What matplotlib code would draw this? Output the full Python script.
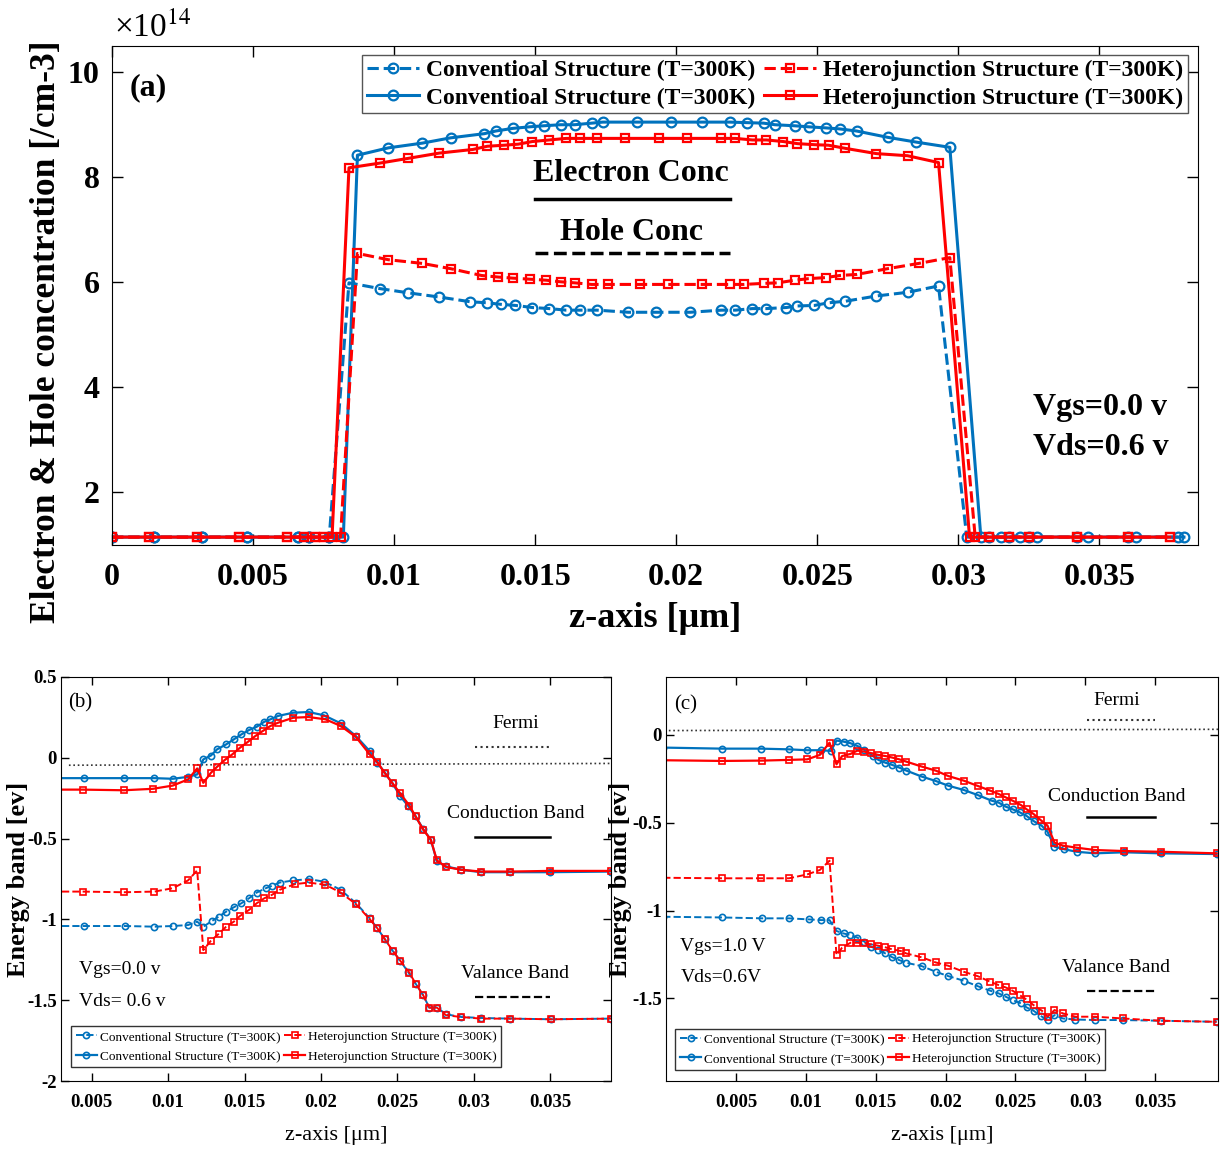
import numpy as np
import matplotlib
matplotlib.use("Agg")
from matplotlib import pyplot as plt

plt.rcParams['font.family'] = ['Liberation Serif', 'DejaVu Serif']
plt.rcParams['mathtext.fontset'] = 'stix'

BLUE = '#0072BD'
RED = '#FF0000'

# ---------------- panel (a): carrier concentration (x1e14 /cm3) ----------------
a_conv_e_z = [0.0000, 0.0015, 0.0032, 0.0048, 0.0066, 0.0070, 0.0077, 0.0082,
              0.0087, 0.0098, 0.0110, 0.0120, 0.0132, 0.0136, 0.0142, 0.0148, 0.0153, 0.0159, 0.0164, 0.0170,
              0.0174, 0.0186, 0.0198, 0.0209, 0.0219, 0.0225, 0.0231, 0.0235, 0.0242, 0.0247, 0.0253, 0.0258,
              0.0264, 0.0275, 0.0285, 0.0297,
              0.0308, 0.0315, 0.0322, 0.0328, 0.0346, 0.0363, 0.0380]
a_conv_e = [1.15, 1.15, 1.15, 1.15, 1.15, 1.15, 1.15, 1.15,
            8.42, 8.56, 8.65, 8.75, 8.83, 8.88, 8.93, 8.96, 8.98, 9.00, 9.00, 9.03,
            9.05, 9.05, 9.05, 9.05, 9.05, 9.04, 9.03, 9.00, 8.98, 8.96, 8.94, 8.92,
            8.88, 8.76, 8.67, 8.57,
            1.15, 1.15, 1.15, 1.15, 1.15, 1.15, 1.15]

a_het_e_z = [0.0000, 0.0013, 0.0030, 0.0045, 0.0062, 0.0068, 0.0072, 0.0075, 0.0078,
             0.0084, 0.0095, 0.0105, 0.0116, 0.0128, 0.0133, 0.0139, 0.0144, 0.0149, 0.0155, 0.0161, 0.0166, 0.0172,
             0.0182, 0.0194, 0.0204, 0.0216, 0.0221, 0.0227, 0.0232, 0.0238, 0.0243, 0.0249, 0.0254, 0.0260,
             0.0271, 0.0282, 0.0293,
             0.0304, 0.0311, 0.0318, 0.0325, 0.0342, 0.0360, 0.0375]
a_het_e = [1.15, 1.15, 1.15, 1.15, 1.15, 1.15, 1.15, 1.15, 1.15,
           8.18, 8.27, 8.36, 8.46, 8.53, 8.59, 8.61, 8.63, 8.68, 8.71, 8.74, 8.74, 8.74,
           8.74, 8.74, 8.74, 8.74, 8.74, 8.71, 8.71, 8.68, 8.64, 8.62, 8.61, 8.55,
           8.45, 8.41, 8.28,
           1.15, 1.15, 1.15, 1.15, 1.15, 1.15, 1.15]

a_conv_h_z = [0.0000, 0.0015, 0.0032, 0.0048, 0.0066, 0.0070, 0.0077,
              0.0084, 0.0095, 0.0105, 0.0116, 0.0127, 0.0133, 0.0138, 0.0143, 0.0149, 0.0155, 0.0161, 0.0166, 0.0172,
              0.0183, 0.0193, 0.0205, 0.0216, 0.0221, 0.0227, 0.0232, 0.0239, 0.0243, 0.0249, 0.0254, 0.0260,
              0.0271, 0.0282, 0.0293,
              0.0303, 0.0311, 0.0318, 0.0325, 0.0342, 0.0360, 0.0378]
a_conv_h = [1.15, 1.15, 1.15, 1.15, 1.15, 1.15, 1.15,
            5.99, 5.88, 5.80, 5.72, 5.63, 5.61, 5.58, 5.56, 5.52, 5.50, 5.47, 5.47, 5.47,
            5.43, 5.43, 5.43, 5.47, 5.47, 5.50, 5.50, 5.52, 5.55, 5.56, 5.61, 5.64,
            5.74, 5.81, 5.93,
            1.15, 1.15, 1.15, 1.15, 1.15, 1.15, 1.15]

a_het_h_z = [0.0000, 0.0013, 0.0030, 0.0045, 0.0062, 0.0068, 0.0072, 0.0075, 0.0081,
             0.0087, 0.0098, 0.0110, 0.0120, 0.0131, 0.0137, 0.0142, 0.0148, 0.0154, 0.0159, 0.0164, 0.0170,
             0.0176, 0.0187, 0.0197, 0.0209, 0.0219, 0.0224, 0.0231, 0.0236, 0.0242, 0.0247, 0.0253, 0.0258,
             0.0264, 0.0275, 0.0286, 0.0297,
             0.0306, 0.0311, 0.0318, 0.0325, 0.0342, 0.0360, 0.0375]
a_het_h = [1.15, 1.15, 1.15, 1.15, 1.15, 1.15, 1.15, 1.15, 1.15,
           6.55, 6.43, 6.36, 6.26, 6.13, 6.10, 6.08, 6.06, 6.04, 6.01, 5.99, 5.96,
           5.96, 5.96, 5.96, 5.96, 5.96, 5.96, 5.98, 5.99, 6.04, 6.07, 6.09, 6.13,
           6.15, 6.26, 6.36, 6.47,
           1.15, 1.15, 1.15, 1.15, 1.15, 1.15, 1.15]

# ---------------- panel (b): band diagram, Vgs=0.0 V ----------------
b_conv_cb_z = [0.0017, 0.0045, 0.0071, 0.0091, 0.0103, 0.0113, 0.0119, 0.0123, 0.0128, 0.0132,
               0.0138, 0.0143, 0.0148, 0.0153, 0.0158, 0.0163, 0.0167, 0.0172, 0.0182, 0.0192,
               0.0202, 0.0213, 0.0223, 0.0232, 0.0237, 0.0242, 0.0247, 0.0252, 0.0257, 0.0262,
               0.0267, 0.0272, 0.0276, 0.0282, 0.0292, 0.0305, 0.0324, 0.0350, 0.0390]
b_conv_cb = [-0.126, -0.126, -0.126, -0.126, -0.130, -0.118, -0.103, -0.010, 0.014, 0.052,
             0.083, 0.114, 0.145, 0.172, 0.192, 0.223, 0.238, 0.259, 0.279, 0.283,
             0.263, 0.213, 0.134, 0.041, -0.031, -0.093, -0.159, -0.238, -0.296, -0.362,
             -0.441, -0.507, -0.641, -0.672, -0.693, -0.708, -0.708, -0.708, -0.704]

b_het_cb_z = [0.0017, 0.0044, 0.0071, 0.0090, 0.0103, 0.0113, 0.0119, 0.0123, 0.0128, 0.0132,
              0.0137, 0.0142, 0.0147, 0.0152, 0.0157, 0.0162, 0.0167, 0.0172, 0.0182, 0.0192,
              0.0203, 0.0213, 0.0223, 0.0232, 0.0237, 0.0242, 0.0247, 0.0252, 0.0258, 0.0262,
              0.0267, 0.0272, 0.0276, 0.0282, 0.0292, 0.0305, 0.0324, 0.0350, 0.0390]
b_het_cb = [-0.197, -0.197, -0.201, -0.192, -0.172, -0.134, -0.066, -0.155, -0.093, -0.056,
            -0.014, 0.021, 0.062, 0.097, 0.134, 0.166, 0.197, 0.217, 0.248, 0.252,
            0.238, 0.197, 0.128, 0.021, -0.027, -0.097, -0.159, -0.221, -0.296, -0.362,
            -0.445, -0.507, -0.635, -0.676, -0.693, -0.704, -0.704, -0.700, -0.700]

b_conv_vb_z = [0.0017, 0.0045, 0.0072, 0.0091, 0.0103, 0.0113, 0.0119, 0.0123, 0.0129, 0.0133,
               0.0138, 0.0143, 0.0148, 0.0153, 0.0158, 0.0164, 0.0168, 0.0173, 0.0182, 0.0192,
               0.0202, 0.0213, 0.0223, 0.0232, 0.0237, 0.0242, 0.0247, 0.0252, 0.0257, 0.0262,
               0.0267, 0.0271, 0.0276, 0.0282, 0.0292, 0.0305, 0.0324, 0.0351, 0.0390]
b_conv_vb = [-1.041, -1.041, -1.041, -1.045, -1.041, -1.035, -1.014, -1.045, -1.008, -0.983,
             -0.952, -0.925, -0.900, -0.869, -0.834, -0.807, -0.792, -0.772, -0.759, -0.751,
             -0.766, -0.817, -0.900, -0.993, -1.055, -1.124, -1.194, -1.256, -1.324, -1.397,
             -1.469, -1.546, -1.546, -1.587, -1.604, -1.610, -1.614, -1.618, -1.614]

b_het_vb_z = [0.0017, 0.0044, 0.0071, 0.0091, 0.0103, 0.0113, 0.0119, 0.0123, 0.0128, 0.0133,
              0.0138, 0.0143, 0.0147, 0.0153, 0.0158, 0.0163, 0.0168, 0.0173, 0.0183, 0.0192,
              0.0203, 0.0213, 0.0223, 0.0232, 0.0237, 0.0242, 0.0247, 0.0252, 0.0258, 0.0262,
              0.0267, 0.0271, 0.0276, 0.0282, 0.0292, 0.0305, 0.0324, 0.0351, 0.0390]
b_het_vb = [-0.828, -0.828, -0.832, -0.828, -0.807, -0.759, -0.697, -1.190, -1.132, -1.090,
            -1.045, -1.014, -0.979, -0.941, -0.900, -0.869, -0.848, -0.817, -0.782, -0.772,
            -0.786, -0.834, -0.906, -0.999, -1.055, -1.124, -1.194, -1.256, -1.330, -1.397,
            -1.469, -1.546, -1.546, -1.593, -1.604, -1.614, -1.614, -1.618, -1.614]

b_fermi_z = [0.0035, 0.0390]
b_fermi = [-0.046, -0.035]

# ---------------- panel (c): band diagram, Vgs=1.0 V ----------------
c_conv_cb_z = [-0.0002, 0.0040, 0.0068, 0.0088, 0.0101, 0.0111, 0.0118, 0.0122, 0.0127, 0.0132,
               0.0137, 0.0142, 0.0148, 0.0152, 0.0157, 0.0162, 0.0167, 0.0172, 0.0183, 0.0193,
               0.0202, 0.0213, 0.0223, 0.0233, 0.0238, 0.0243, 0.0248, 0.0253, 0.0258, 0.0263,
               0.0269, 0.0273, 0.0278, 0.0285, 0.0294, 0.0307, 0.0328, 0.0354, 0.0394]
c_conv_cb = [-0.072, -0.078, -0.078, -0.082, -0.087, -0.087, -0.091, -0.032, -0.038, -0.047,
             -0.063, -0.085, -0.120, -0.142, -0.158, -0.171, -0.186, -0.203, -0.237, -0.262,
             -0.289, -0.313, -0.342, -0.374, -0.385, -0.408, -0.423, -0.440, -0.461, -0.490,
             -0.518, -0.551, -0.636, -0.651, -0.665, -0.674, -0.668, -0.674, -0.678]

c_het_cb_z = [-0.0002, 0.0040, 0.0069, 0.0088, 0.0101, 0.0110, 0.0117, 0.0122, 0.0126, 0.0132,
              0.0137, 0.0142, 0.0147, 0.0152, 0.0157, 0.0162, 0.0167, 0.0172, 0.0183, 0.0193,
              0.0202, 0.0213, 0.0223, 0.0232, 0.0238, 0.0243, 0.0248, 0.0254, 0.0258, 0.0263,
              0.0268, 0.0273, 0.0278, 0.0284, 0.0294, 0.0307, 0.0328, 0.0354, 0.0394]
c_het_cb = [-0.144, -0.148, -0.146, -0.142, -0.139, -0.114, -0.044, -0.167, -0.120, -0.108,
            -0.089, -0.095, -0.104, -0.114, -0.120, -0.129, -0.139, -0.152, -0.180, -0.203,
            -0.234, -0.260, -0.290, -0.317, -0.336, -0.355, -0.374, -0.399, -0.423, -0.450,
            -0.484, -0.516, -0.613, -0.630, -0.642, -0.655, -0.661, -0.665, -0.674]

c_conv_vb_z = [-0.0002, 0.0040, 0.0069, 0.0088, 0.0102, 0.0111, 0.0117, 0.0122, 0.0127, 0.0132,
               0.0137, 0.0142, 0.0147, 0.0152, 0.0157, 0.0162, 0.0167, 0.0172, 0.0183, 0.0193,
               0.0202, 0.0213, 0.0223, 0.0232, 0.0238, 0.0243, 0.0248, 0.0254, 0.0258, 0.0263,
               0.0268, 0.0273, 0.0278, 0.0284, 0.0293, 0.0307, 0.0327, 0.0354, 0.0394]
c_conv_vb = [-1.035, -1.039, -1.044, -1.044, -1.050, -1.054, -1.054, -1.116, -1.130, -1.139,
             -1.154, -1.177, -1.206, -1.225, -1.244, -1.266, -1.282, -1.297, -1.316, -1.348,
             -1.373, -1.399, -1.430, -1.456, -1.471, -1.490, -1.509, -1.528, -1.551, -1.570,
             -1.599, -1.623, -1.595, -1.614, -1.620, -1.623, -1.623, -1.627, -1.633]

c_het_vb_z = [-0.0002, 0.0040, 0.0068, 0.0088, 0.0101, 0.0110, 0.0117, 0.0122, 0.0126, 0.0132,
              0.0137, 0.0142, 0.0147, 0.0152, 0.0157, 0.0162, 0.0168, 0.0172, 0.0183, 0.0193,
              0.0202, 0.0213, 0.0223, 0.0232, 0.0238, 0.0243, 0.0248, 0.0253, 0.0258, 0.0263,
              0.0269, 0.0273, 0.0278, 0.0284, 0.0293, 0.0307, 0.0327, 0.0354, 0.0394]
c_het_vb = [-0.813, -0.816, -0.816, -0.816, -0.794, -0.769, -0.716, -1.253, -1.211, -1.183,
            -1.183, -1.187, -1.192, -1.200, -1.209, -1.221, -1.230, -1.244, -1.266, -1.295,
            -1.314, -1.348, -1.373, -1.405, -1.424, -1.437, -1.456, -1.481, -1.506, -1.538,
            -1.570, -1.604, -1.566, -1.585, -1.604, -1.604, -1.614, -1.627, -1.633]

c_fermi_z = [0.0002, 0.0395]
c_fermi = [0.025, 0.032]

z_ticks = [0.005, 0.01, 0.015, 0.02, 0.025, 0.03, 0.035]
z_tick_labels = ['0.005', '0.01', '0.015', '0.02', '0.025', '0.03', '0.035']


fig = plt.figure(figsize=(12.23, 11.6), dpi=100)

# ================= (a) =================
ax = fig.add_axes([0.0916, 0.5302, 0.888, 0.4302])
ms_a = dict(markerfacecolor='none', markeredgewidth=1.6)
h1, = ax.plot(a_conv_h_z, a_conv_h, '--o', color=BLUE, lw=2.2, ms=7, **ms_a,
              label='Conventioal Structure (T=300K)')
h2, = ax.plot(a_conv_e_z, a_conv_e, '-o', color=BLUE, lw=2.2, ms=7, **ms_a,
              label='Conventioal Structure (T=300K)')
h3, = ax.plot(a_het_h_z, a_het_h, '--s', color=RED, lw=2.2, ms=6, **ms_a,
              label='Heterojunction Structure (T=300K)')
h4, = ax.plot(a_het_e_z, a_het_e, '-s', color=RED, lw=2.2, ms=6, **ms_a,
              label='Heterojunction Structure (T=300K)')

ax.set_xlim(0, 0.0385)
ax.set_ylim(1.0, 10.5)
ax.set_xticks([0] + z_ticks)
ax.set_xticklabels(['0'] + z_tick_labels)
ax.set_yticks([2, 4, 6, 8, 10])
ax.set_yticklabels(['2', '4', '6', '8', '10'])
ax.tick_params(direction='in', top=True, right=True, length=8, width=1, labelsize=23)
ax.tick_params(axis='x', pad=13)
ax.tick_params(axis='y', pad=9)
for lab in ax.get_xticklabels() + ax.get_yticklabels():
    lab.set_fontweight('bold')
ax.set_xlabel('z-axis [μm]', fontsize=26, fontweight='bold')
ax.xaxis.set_label_coords(0.5, -0.114)
ax.set_ylabel('Electron & Hole concentration [/cm-3]', fontsize=25.5, fontweight='bold')
ax.yaxis.set_label_coords(-0.045, 0.427)
fig.text(114 / 1223, 1 - 28 / 1160, '×10$^{14}$', fontsize=24, va='center', ha='left')

leg = ax.legend(handles=[h1, h2, h3, h4], ncol=2, loc='upper right',
                bbox_to_anchor=(0.991, 0.982), borderaxespad=0, fancybox=False,
                edgecolor='#555555', framealpha=1, borderpad=0.2, handlelength=2.2,
                handletextpad=0.3, columnspacing=0.4, labelspacing=0.25,
                prop={'size': 17, 'weight': 'bold'})
leg.get_frame().set_linewidth(1.0)

ax.text(0.0166, 0.916, '(a)', transform=ax.transAxes, fontsize=23, fontweight='bold',
        ha='left', va='center')
ax.text(0.478, 0.745, 'Electron Conc', transform=ax.transAxes, fontsize=23,
        fontweight='bold', ha='center', va='center')
ax.plot([0.3895, 0.569], [0.693, 0.693], transform=ax.transAxes, color='k', lw=2.5)
ax.text(0.478, 0.627, 'Hole Conc', transform=ax.transAxes, fontsize=23,
        fontweight='bold', ha='center', va='center')
ax.plot([0.3895, 0.569], [0.585, 0.585], '--', transform=ax.transAxes, color='k', lw=2.5)
ax.text(0.848, 0.2745, 'Vgs=0.0 v', transform=ax.transAxes, fontsize=23,
        fontweight='bold', ha='left', va='center')
ax.text(0.848, 0.196, 'Vds=0.6 v', transform=ax.transAxes, fontsize=23,
        fontweight='bold', ha='left', va='center')


def band_panel(ax, cb_conv, cb_het, vb_conv, vb_het, fermi):
    mk = dict(markerfacecolor='none', markeredgewidth=1.2)
    ax.plot(*fermi, ':', color='#333333', lw=1.2)
    l1, = ax.plot(*vb_conv, '--o', color=BLUE, lw=1.4, ms=4.5, **mk,
                  label='Conventional Structure (T=300K)')
    l2, = ax.plot(*cb_conv, '-o', color=BLUE, lw=1.6, ms=4.5, **mk,
                  label='Conventional Structure (T=300K)')
    l3, = ax.plot(*vb_het, '--s', color=RED, lw=1.4, ms=4, **mk,
                  label='Heterojunction Structure (T=300K)')
    l4, = ax.plot(*cb_het, '-s', color=RED, lw=1.6, ms=4, **mk,
                  label='Heterojunction Structure (T=300K)')
    ax.set_xticks(z_ticks)
    ax.set_xticklabels(z_tick_labels)
    ax.tick_params(direction='in', top=True, right=True, length=6, width=1, labelsize=13.5)
    ax.tick_params(axis='x', pad=9)
    ax.tick_params(axis='y', pad=3)
    for lab in ax.get_xticklabels() + ax.get_yticklabels():
        lab.set_fontweight('bold')
    ax.set_xlabel('z-axis [μm]', fontsize=16)
    ax.xaxis.set_label_coords(0.5, -0.112)
    ax.set_ylabel('Energy band [ev]', fontsize=19, fontweight='bold')
    return [l1, l2, l3, l4]


def band_notes(ax, xc, fermi_y, cb_y, vb_y, x0, x1):
    ax.text(xc, fermi_y[0], 'Fermi', transform=ax.transAxes, fontsize=14, ha='center', va='center')
    ax.plot([x0, x1], [fermi_y[1]] * 2, ':', transform=ax.transAxes, color='#333333', lw=1.5)
    ax.text(xc, cb_y[0], 'Conduction Band', transform=ax.transAxes, fontsize=14, ha='center', va='center')
    ax.plot([x0, x1], [cb_y[1]] * 2, '-', transform=ax.transAxes, color='k', lw=1.8)
    ax.text(xc, vb_y[0], 'Valance Band', transform=ax.transAxes, fontsize=14, ha='center', va='center')
    ax.plot([x0, x1], [vb_y[1]] * 2, '--', transform=ax.transAxes, color='k', lw=1.6)


# ================= (b) =================
axb = fig.add_axes([0.0501, 0.0681, 0.4495, 0.3483])
hb = band_panel(axb, (b_conv_cb_z, b_conv_cb), (b_het_cb_z, b_het_cb),
                (b_conv_vb_z, b_conv_vb), (b_het_vb_z, b_het_vb), (b_fermi_z, b_fermi))
axb.set_xlim(0.003, 0.039)
axb.set_ylim(-2, 0.5)
axb.set_yticks([-2, -1.5, -1, -0.5, 0, 0.5])
axb.set_yticklabels(['-2', '-1.5', '-1', '-0.5', '0', '0.5'])
for lab in axb.get_yticklabels():
    lab.set_fontweight('bold')
axb.yaxis.set_label_coords(-0.057, 0.5)
axb.text(0.012, 0.936, '(b)', transform=axb.transAxes, fontsize=15, ha='left', va='center')
band_notes(axb, 0.826, (0.886, 0.827), (0.661, 0.605), (0.267, 0.209), 0.752, 0.889)
axb.text(0.032, 0.277, 'Vgs=0.0 v', transform=axb.transAxes, fontsize=14, ha='left', va='center')
axb.text(0.032, 0.198, 'Vds= 0.6 v', transform=axb.transAxes, fontsize=14, ha='left', va='center')
lb = axb.legend(handles=hb, ncol=2, loc='lower left', bbox_to_anchor=(0.006, 0.018),
                fancybox=False, edgecolor='#333333', framealpha=1, borderpad=0.35,
                handlelength=1.6, handletextpad=0.2, columnspacing=0.3, labelspacing=0.55,
                prop={'size': 9.5})
lb.get_frame().set_linewidth(1.0)

# ================= (c) =================
axc = fig.add_axes([0.5446, 0.0681, 0.4513, 0.3483])
hc = band_panel(axc, (c_conv_cb_z, c_conv_cb), (c_het_cb_z, c_het_cb),
                (c_conv_vb_z, c_conv_vb), (c_het_vb_z, c_het_vb), (c_fermi_z, c_fermi))
axc.set_xlim(0, 0.0395)
axc.set_ylim(-1.97, 0.33)
axc.set_yticks([-1.5, -1, -0.5, 0])
axc.set_yticklabels(['-1.5', '-1', '-0.5', '0'])
for lab in axc.get_yticklabels():
    lab.set_fontweight('bold')
axc.yaxis.set_label_coords(-0.062, 0.5)
axc.text(0.014, 0.93, '(c)', transform=axc.transAxes, fontsize=15, ha='left', va='center')
band_notes(axc, 0.816, (0.943, 0.894), (0.703, 0.654), (0.280, 0.2235), 0.763, 0.886)
axc.text(0.026, 0.332, 'Vgs=1.0 V', transform=axc.transAxes, fontsize=14, ha='left', va='center')
axc.text(0.026, 0.255, 'Vds=0.6V', transform=axc.transAxes, fontsize=14, ha='left', va='center')
lc = axc.legend(handles=hc, ncol=2, loc='lower left', bbox_to_anchor=(0.005, 0.012),
                fancybox=False, edgecolor='#333333', framealpha=1, borderpad=0.35,
                handlelength=1.6, handletextpad=0.2, columnspacing=0.3, labelspacing=0.55,
                prop={'size': 9.5})
lc.get_frame().set_linewidth(1.0)

fig.savefig('out.png', dpi=100)
